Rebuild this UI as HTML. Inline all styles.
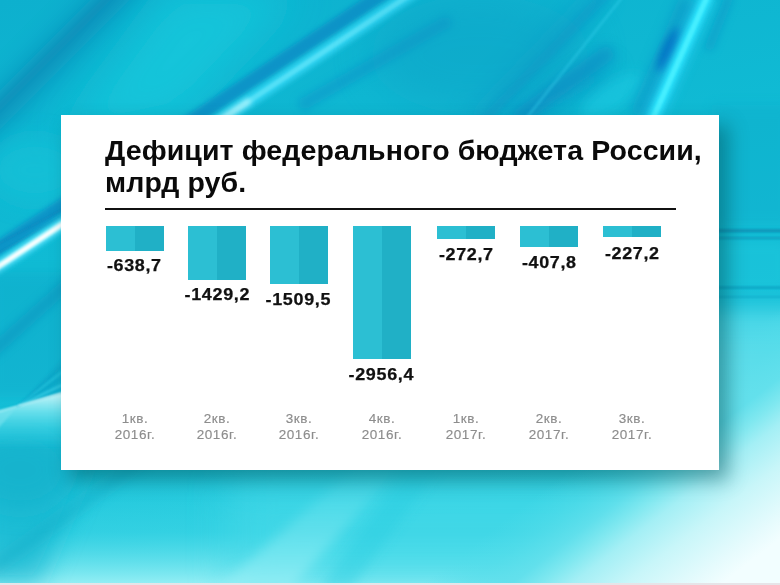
<!DOCTYPE html>
<html><head><meta charset="utf-8">
<style>
*{margin:0;padding:0;box-sizing:border-box}
html,body{width:780px;height:585px;overflow:hidden;background:#e6e4e8}
#bg{position:absolute;left:0;top:0;width:780px;height:583px;overflow:hidden;
}
.s{position:absolute;}
#card{position:absolute;left:61px;top:115px;width:658px;height:355px;background:#fff;
box-shadow:9px 10px 18px rgba(0,78,86,.48);}
#title{position:absolute;left:44px;top:19.8px;font:bold 28.5px/31.7px "Liberation Sans",sans-serif;color:#0a0a0a;white-space:nowrap;letter-spacing:.1px}
#rule{position:absolute;left:44px;top:93px;width:571px;height:2px;background:#111}
.bar{position:absolute;top:111px;width:58px;background:linear-gradient(90deg,#2cbfd3 0,#2cbfd3 50%,#20b0c6 50%,#20b0c6 100%)}
.v{position:absolute;width:100px;margin-left:-21px;text-align:center;font:bold 16px/16px "Liberation Sans",sans-serif;letter-spacing:.6px;text-indent:.6px;color:#111;transform:scaleX(1.12);-webkit-text-stroke:.25px #111}
.ax{position:absolute;top:296px;width:100px;text-align:center;font:13.5px/16px "Liberation Sans",sans-serif;color:#8d8d8d;letter-spacing:.6px;-webkit-text-stroke:.15px #8d8d8d}
</style></head><body>
<div id="bg"><svg id="bgs" width="780" height="583" viewBox="0 0 780 583" style="position:absolute;left:0;top:0">
<defs>
<linearGradient id="g0" gradientUnits="userSpaceOnUse" x1="0" y1="0" x2="120" y2="583">
<stop offset="0" stop-color="#0db0ce"/>
<stop offset="0.45" stop-color="#10bbd4"/>
<stop offset="0.75" stop-color="#16c0d8"/>
<stop offset="1" stop-color="#2ccfe0"/>
</linearGradient>
<linearGradient id="gb" gradientUnits="userSpaceOnUse" x1="60" y1="560" x2="200" y2="420">
<stop offset="0" stop-color="#2ad0e2" stop-opacity="0"/>
<stop offset="0.3" stop-color="#2ad0e2" stop-opacity=".7"/>
<stop offset="1" stop-color="#2ad0e2" stop-opacity="1"/>
</linearGradient>
<radialGradient id="glow" gradientUnits="userSpaceOnUse" cx="790" cy="600" r="300">
<stop offset="0" stop-color="#f0fdfe"/>
<stop offset="0.3" stop-color="#d4f7fa"/>
<stop offset="0.6" stop-color="#96eaf2" stop-opacity=".75"/>
<stop offset="1" stop-color="#50dcea" stop-opacity="0"/>
</radialGradient>
<linearGradient id="gr" gradientUnits="userSpaceOnUse" x1="0" y1="292" x2="0" y2="480">
<stop offset="0" stop-color="#30cce0" stop-opacity="0"/>
<stop offset="0.15" stop-color="#4cd8e8" stop-opacity=".95"/>
<stop offset=".5" stop-color="#6ee1ec" stop-opacity="1"/>
<stop offset="1" stop-color="#b8f2f6" stop-opacity="1"/>
</linearGradient>
<filter id="b1" x="-50%" y="-50%" width="200%" height="200%"><feGaussianBlur stdDeviation="1"/></filter>
<filter id="b2" x="-50%" y="-50%" width="200%" height="200%"><feGaussianBlur stdDeviation="2.5"/></filter>
<filter id="b4" x="-50%" y="-50%" width="200%" height="200%"><feGaussianBlur stdDeviation="4"/></filter>
<filter id="b6" x="-50%" y="-50%" width="200%" height="200%"><feGaussianBlur stdDeviation="6"/></filter>
<filter id="b12" x="-50%" y="-50%" width="200%" height="200%"><feGaussianBlur stdDeviation="12"/></filter>
<filter id="b20" x="-50%" y="-50%" width="200%" height="200%"><feGaussianBlur stdDeviation="20"/></filter>
</defs>
<rect width="780" height="583" fill="url(#g0)"/>
<!-- bottom lighter region -->
<linearGradient id="gv" gradientUnits="userSpaceOnUse" x1="0" y1="470" x2="0" y2="583">
<stop offset="0" stop-color="#3ad6e6" stop-opacity="0"/>
<stop offset=".55" stop-color="#44d8e8" stop-opacity=".45"/>
<stop offset="1" stop-color="#92eef4" stop-opacity="1"/>
</linearGradient>
<linearGradient id="gbr" gradientUnits="userSpaceOnUse" x1="438.7" y1="570.4" x2="550.3" y2="715.6">
<stop offset="0" stop-color="#50dcea" stop-opacity="0"/>
<stop offset=".15" stop-color="#55ddea" stop-opacity=".5"/>
<stop offset=".3" stop-color="#62e0ec" stop-opacity=".95"/>
<stop offset=".4" stop-color="#80e8f0"/>
<stop offset=".5" stop-color="#a4eff5"/>
<stop offset=".68" stop-color="#c8f6f9"/>
<stop offset=".9" stop-color="#e6fbfd"/>
<stop offset="1" stop-color="#f2feff"/>
</linearGradient>
<rect x="700" y="292" width="100" height="190" fill="url(#gr)" filter="url(#b6)"/>
<rect x="0" y="440" width="780" height="143" fill="url(#gv)"/>
<rect x="230" y="478" width="380" height="110" fill="#46dae9" opacity=".6" filter="url(#b20)"/>
<path d="M-20,440 L100,440 L40,583 L-20,583 Z" fill="#16b6d0" opacity=".7" filter="url(#b12)"/>
<ellipse cx="20" cy="470" rx="50" ry="40" fill="#12b0ca" opacity=".6" filter="url(#b12)"/>
<path d="M-10,570 L150,455" stroke="#12aac6" stroke-width="12" opacity=".45" fill="none" filter="url(#b6)"/>
<linearGradient id="lb" gradientUnits="userSpaceOnUse" x1="0" y1="470" x2="0" y2="583">
<stop offset="0" stop-color="#8aecf4" stop-opacity=".05"/>
<stop offset="1" stop-color="#9af0f6" stop-opacity=".65"/>
</linearGradient>
<path d="M215,590 L290,590 L405,460 L365,460 Z" fill="url(#lb)" filter="url(#b6)"/>
<path d="M318,590 L350,590 L445,460 L415,460 Z" fill="#26cce0" opacity=".4" filter="url(#b6)"/>
<rect width="780" height="583" fill="url(#gbr)"/>
<!-- top-left dark diagonal -->
<path d="M120,-30 L160,-30 L-30,160 L-30,120 Z" fill="#0888b6" opacity=".75" filter="url(#b12)"/>
<path d="M116,-10 L-10,116" stroke="#0784b2" stroke-width="7" fill="none" opacity=".5" filter="url(#b4)"/>
<!-- light area -->
<path d="M170,-10 L300,-10 L180,115 L60,140 Z" fill="#16c8dc" opacity=".85" filter="url(#b20)"/>
<!-- left strip mid light -->
<ellipse cx="35" cy="170" rx="45" ry="32" fill="#16c2d8" opacity=".7" filter="url(#b12)"/>
<!-- dark band parallel above main streak -->
<path d="M421,-31 L-39,272.6" stroke="#0a88c4" stroke-width="14" fill="none" opacity=".75" filter="url(#b2)"/>
<path d="M70,212 L0,252 L-20,263" stroke="#0886bc" stroke-width="2.5" fill="none" opacity=".6" filter="url(#b1)"/>
<path d="M70,205 L0,243 L-20,254" stroke="#0886bc" stroke-width="2.5" fill="none" opacity=".5" filter="url(#b1)"/>
<!-- second dark band lower right -->
<path d="M450,20 L300,106" stroke="#0a92c8" stroke-width="12" fill="none" opacity=".55" filter="url(#b4)"/>
<!-- main bright streak -->
<path d="M430,-18.4 L-30,285.2" stroke="#30d4f2" stroke-width="13" fill="none" opacity=".95" filter="url(#b2)"/>
<path d="M430,-18.4 L-30,285.2" stroke="#5ae2f8" stroke-width="5" fill="none" opacity=".85" filter="url(#b1)"/>
<path d="M250,100.4 L61,225.1 L0,265.4 L-30,285.2" stroke="#c8faff" stroke-width="7" fill="none" opacity=".6" filter="url(#b2)"/>
<path d="M95,202.7 L61,225.1 L0,265.4 L-30,285.2" stroke="#a8f4fc" stroke-width="6" fill="none" opacity=".9" filter="url(#b1)"/>
<path d="M85,209.3 L61,225.1 L0,265.4 L-30,285.2" stroke="#ffffff" stroke-width="3.5" fill="none" opacity="1" filter="url(#b1)"/>
<!-- faint dark band in top middle -->
<path d="M600,-10 L470,125" stroke="#0a98c6" stroke-width="20" fill="none" opacity=".45" filter="url(#b12)"/>
<path d="M610,-10 L480,125" stroke="#0a8cc4" stroke-width="10" fill="none" opacity=".4" filter="url(#b4)"/>
<path d="M610,70 L510,125" stroke="#0a88c0" stroke-width="16" fill="none" opacity=".5" filter="url(#b12)"/>
<!-- faint light streak -->
<ellipse cx="480" cy="55" rx="110" ry="60" fill="#0896c0" opacity=".3" filter="url(#b20)"/>
<path d="M515,120 L612,50" stroke="#0a80c0" stroke-width="16" fill="none" opacity=".5" filter="url(#b6)"/>
<ellipse cx="0" cy="0" rx="36" ry="13" transform="translate(612,96) rotate(-35)" fill="#1ccae2" opacity=".6" filter="url(#b6)"/>
<path d="M624,-5 L521,125" stroke="#34d2ee" stroke-width="3" fill="none" opacity=".35" filter="url(#b1)"/>
<!-- right dark blue band -->
<path d="M690,0 L640,116" stroke="#0a8ec4" stroke-width="22" fill="none" opacity=".5" filter="url(#b6)"/>
<ellipse cx="0" cy="0" rx="6" ry="24" transform="translate(669,50) rotate(24.6)" fill="#0560c0" opacity=".85" filter="url(#b4)"/>
<path d="M730,-5 L708,50" stroke="#0a94c6" stroke-width="9" fill="none" opacity=".55" filter="url(#b4)"/>
<!-- right bright streak -->
<path d="M708,-5 L650,125" stroke="#20cef0" stroke-width="22" fill="none" opacity=".55" filter="url(#b4)"/>
<path d="M708,-5 L650,125" stroke="#2ce2fc" stroke-width="11" fill="none" opacity="1" filter="url(#b2)"/>
<path d="M708,-5 L650,125" stroke="#48f0ff" stroke-width="5" fill="none" opacity=".9" filter="url(#b1)"/>
<rect x="712" y="105" width="80" height="120" fill="#0aa6c6" opacity=".3" filter="url(#b6)"/>
<!-- right horizontal lines -->
<rect x="715" y="229" width="70" height="3.5" fill="#0882aa" opacity=".65" filter="url(#b1)"/>
<rect x="715" y="237" width="70" height="2.2" fill="#0884ac" opacity=".55" filter="url(#b1)"/>
<rect x="715" y="244" width="70" height="45" fill="#22cade" opacity=".35" filter="url(#b4)"/>
<rect x="715" y="286.5" width="70" height="2.2" fill="#0884ac" opacity=".5" filter="url(#b1)"/>
<rect x="715" y="296" width="70" height="1.8" fill="#0884ac" opacity=".3" filter="url(#b1)"/>
<rect x="-10" y="272" width="80" height="125" fill="#0a9cc2" opacity=".28" filter="url(#b6)"/>
<path d="M72,280 L-10,354" stroke="#0892be" stroke-width="13" fill="none" opacity=".55" filter="url(#b4)"/>
<!-- left convergence -->
<linearGradient id="fan" gradientUnits="userSpaceOnUse" x1="0" y1="396" x2="0" y2="450">
<stop offset="0" stop-color="#c4f6fa" stop-opacity=".95"/>
<stop offset=".3" stop-color="#7ae6f0" stop-opacity=".8"/>
<stop offset=".7" stop-color="#40d4e6" stop-opacity=".45"/>
<stop offset="1" stop-color="#30cce0" stop-opacity="0"/>
</linearGradient>
<path d="M18,406 L62,358 L62,394 Z" fill="#0aa2c6" opacity=".3" filter="url(#b1)"/>
<path d="M18,406 L70,391 L70,470 L-5,470 L-5,412 Z" fill="url(#fan)" filter="url(#b1)"/>
<path d="M18,406 L62,366" stroke="#0a98c0" stroke-width="1.2" fill="none" opacity=".5" filter="url(#b1)"/>
<path d="M18,406 L62,378" stroke="#0a98c0" stroke-width="1.2" fill="none" opacity=".45" filter="url(#b1)"/>
<path d="M18,406 L62,372" stroke="#3cd6ec" stroke-width="1.5" fill="none" opacity=".5" filter="url(#b1)"/>
<path d="M18,406 L62,385" stroke="#46d8ee" stroke-width="2" fill="none" opacity=".6" filter="url(#b1)"/>
<path d="M18,406 L62,393" stroke="#e8feff" stroke-width="1.6" fill="none" opacity=".9" filter="url(#b1)"/>
<path d="M18,406 L-5,411 L-5,432 Z" fill="#78e2ee" opacity=".6" filter="url(#b1)"/>
<path d="M18,406 L-5,413" stroke="#c0f4fa" stroke-width="1.2" fill="none" opacity=".8" filter="url(#b1)"/>
</svg>
</div>
<div id="card">
<div id="title">Дефицит федерального бюджета России,<br>млрд руб.</div>
<div id="rule"></div>
<div class="bar" style="left:45px;height:25px"></div>
<div class="bar" style="left:127px;height:54px"></div>
<div class="bar" style="left:209px;height:58px"></div>
<div class="bar" style="left:292px;height:133px"></div>
<div class="bar" style="left:376px;height:13px"></div>
<div class="bar" style="left:459px;height:21px"></div>
<div class="bar" style="left:542px;height:11px"></div>
<div class="v" style="left:44px;top:142.5px">-638,7</div>
<div class="v" style="left:127px;top:172px">-1429,2</div>
<div class="v" style="left:207.5px;top:177px">-1509,5</div>
<div class="v" style="left:291px;top:251.5px">-2956,4</div>
<div class="v" style="left:376px;top:132px">-272,7</div>
<div class="v" style="left:459px;top:140px">-407,8</div>
<div class="v" style="left:542px;top:130.5px">-227,2</div>
<div class="ax" style="left:24px">1кв.<br>2016г.</div>
<div class="ax" style="left:106px">2кв.<br>2016г.</div>
<div class="ax" style="left:188px">3кв.<br>2016г.</div>
<div class="ax" style="left:271px">4кв.<br>2016г.</div>
<div class="ax" style="left:355px">1кв.<br>2017г.</div>
<div class="ax" style="left:438px">2кв.<br>2017г.</div>
<div class="ax" style="left:521px">3кв.<br>2017г.</div>
</div>
</body></html>
